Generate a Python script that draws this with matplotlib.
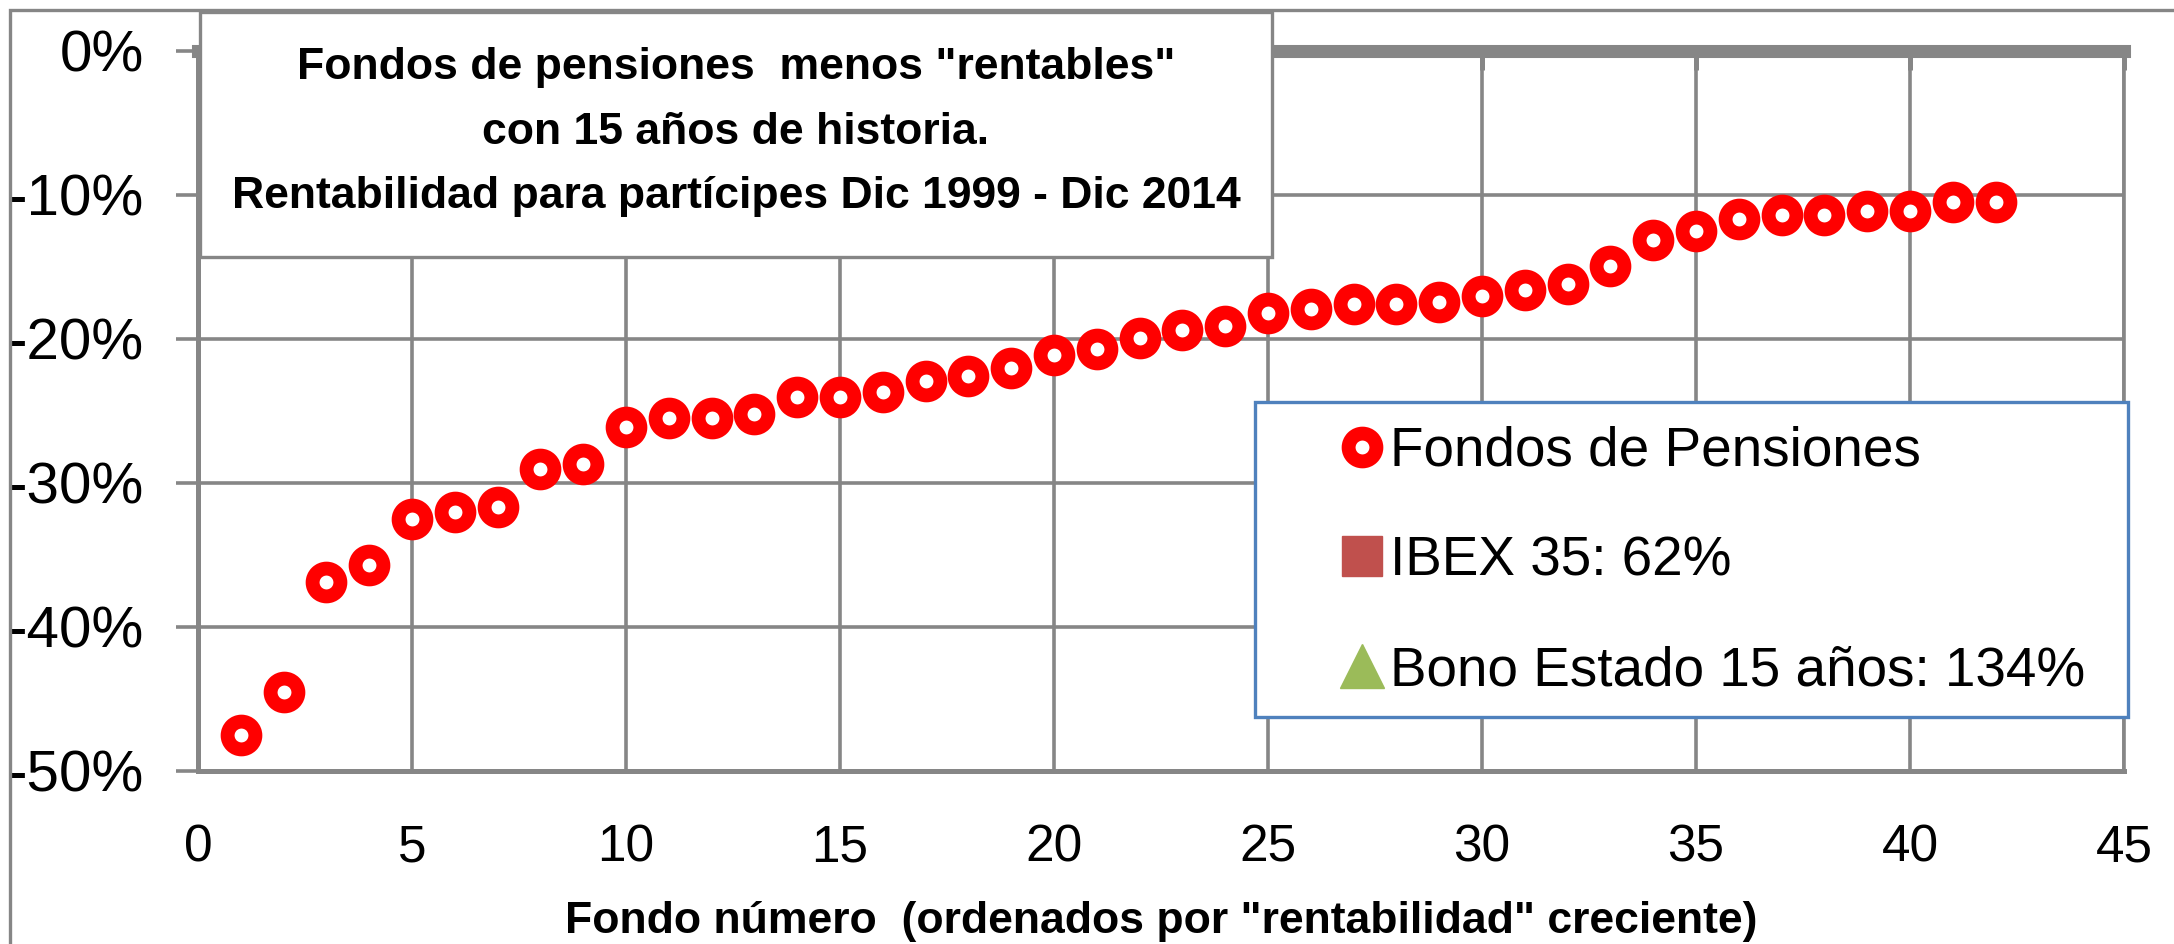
import matplotlib
matplotlib.use("Agg")
import matplotlib.pyplot as plt
from matplotlib.lines import Line2D
from matplotlib.patches import Rectangle

# data (rentabilidad %, fondos ordenados)
fondo = list(range(1, 43))
rentabilidad = [-47.5, -44.5, -36.9, -35.7, -32.5, -32.0, -31.7, -29.0, -28.7, -26.1,
                -25.5, -25.5, -25.2, -24.0, -24.0, -23.7, -22.9, -22.6, -22.0, -21.1,
                -20.7, -19.9, -19.4, -19.1, -18.2, -17.9, -17.6, -17.6, -17.4, -17.0,
                -16.6, -16.2, -14.9, -13.1, -12.5, -11.7, -11.4, -11.4, -11.1, -11.1,
                -10.5, -10.5]
yticks = [0, -10, -20, -30, -40, -50]
ytick_labels = ["0%", "-10%", "-20%", "-30%", "-40%", "-50%"]
xticks = [0, 5, 10, 15, 20, 25, 30, 35, 40, 45]
legend_labels = ["Fondos de Pensiones", "IBEX 35: 62%", "Bono Estado 15 años: 134%"]
title = 'Fondos de pensiones  menos "rentables"\ncon 15 años de historia.\nRentabilidad para partícipes Dic 1999 - Dic 2014'
xlabel = 'Fondo número  (ordenados por "rentabilidad" creciente)'

GRAY = "#868686"

plt.rcParams["font.family"] = ["Liberation Sans", "DejaVu Sans"]

W, H = 2174, 944
fig = plt.figure(figsize=(W / 100, H / 100), dpi=100)
ax = fig.add_axes([198 / W, 1 - 771 / H, (2124 - 198) / W, (771 - 51) / H])

ax.plot(fondo, rentabilidad, linestyle="none", marker="o", ms=20, mew=10,
        mec="#FF0000", mfc="white", zorder=3, clip_on=False)

ax.set_xlim(0, 45)
ax.set_ylim(-50, 0)
ax.set_xticks(xticks)
ax.set_yticks(yticks)
ax.set_yticklabels(ytick_labels)
ax.set_axisbelow(True)
ax.grid(True, color=GRAY, lw=2.6)

for side, lw in [("left", 3.6), ("bottom", 3.6), ("right", 2.6), ("top", 9.4)]:
    ax.spines[side].set_color(GRAY)
    ax.spines[side].set_linewidth(lw)

ax.tick_params(axis="x", bottom=False, top=True, labelbottom=True, labeltop=False,
               direction="in", length=14, width=3.6, color=GRAY, pad=38, labelsize=37)
ax.tick_params(axis="y", left=True, direction="out", length=16, width=2.6,
               color=GRAY, pad=23, labelsize=42)
ax.set_xlabel(xlabel, fontsize=32, fontweight="bold", labelpad=20)

# outer chart border (left and top edges only visible)
fig.add_artist(Rectangle((10 / W, -0.5), 2, 1.5 - 10 / H, transform=fig.transFigure,
                         fill=False, ec=GRAY, lw=2.4, zorder=1))

# title box over the plot
fig.add_artist(Rectangle((200 / W, 1 - 257 / H), 1072 / W, 245 / H, transform=fig.transFigure,
                         fc="white", ec=GRAY, lw=2.4, zorder=5))
fig.text(736 / W, 1 - 132 / H, title, ha="center", va="center", multialignment="center",
         fontsize=32, fontweight="bold", linespacing=1.72, zorder=6)

# legend box
fig.add_artist(Rectangle((1255 / W, 1 - 717 / H), 873 / W, 315 / H, transform=fig.transFigure,
                         fc="white", ec="#4F81BD", lw=2.4, zorder=5))
handles = [
    Line2D([], [], linestyle="none", marker="o", ms=20, mew=10, mec="#FF0000", mfc="white"),
    Line2D([], [], linestyle="none", marker="s", ms=29, color="#C0504D"),
    Line2D([], [], linestyle="none", marker="^", ms=32, color="#9BBB59"),
]
leg = fig.legend(handles, legend_labels, loc="upper left", bbox_to_anchor=(1343 / W, 1 - 426 / H),
                 frameon=False, fontsize=39.5, handlelength=0.7, handletextpad=0.16,
                 labelspacing=1.05, borderpad=0, borderaxespad=0, numpoints=1)
leg.set_zorder(6)

fig.savefig("out.png", dpi=100)
